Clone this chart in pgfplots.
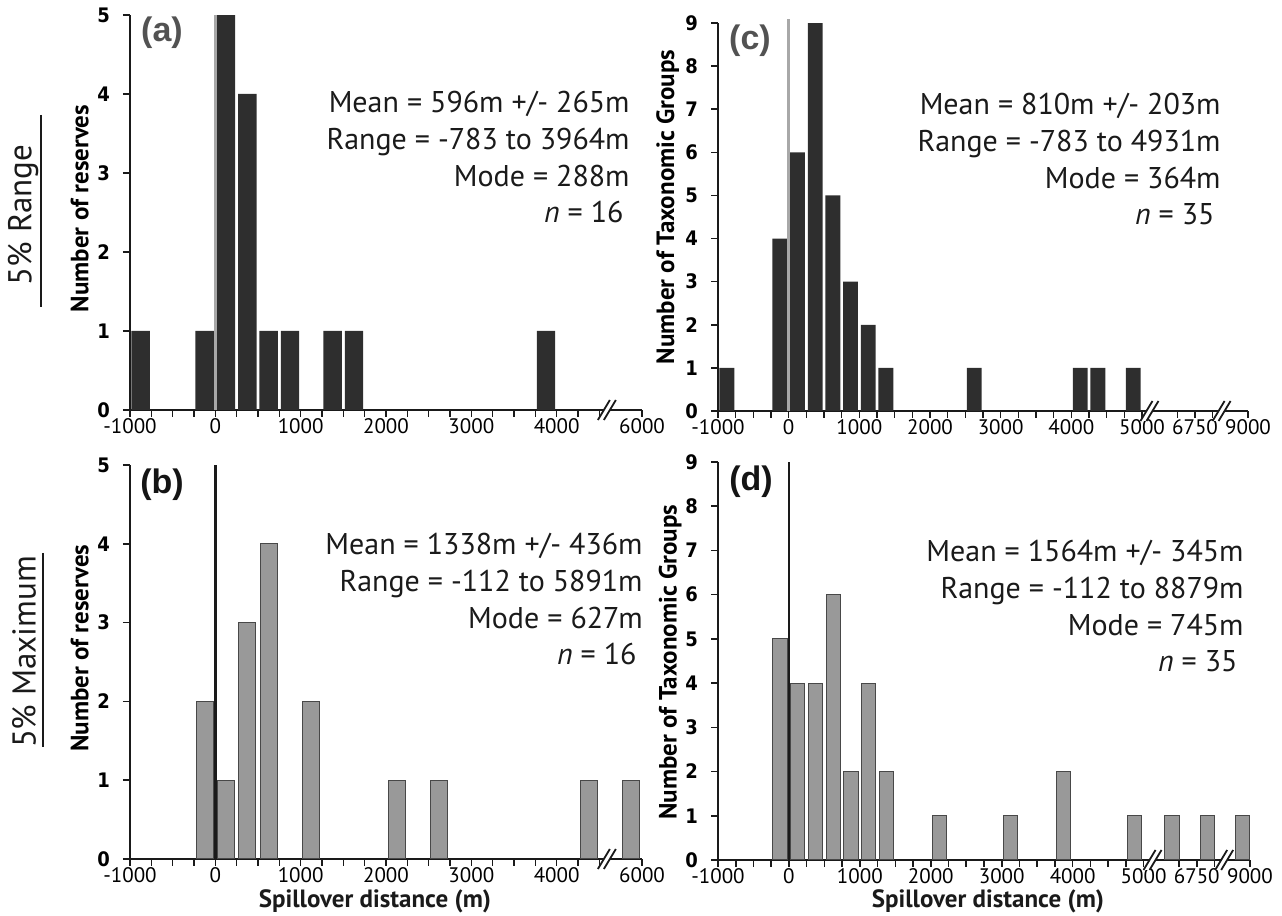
\documentclass[border=0pt]{standalone}
\usepackage{fontspec}
\setmainfont{PT Sans}
\newfontfamily\arialf{Liberation Sans}
\newfontfamily\condf{DejaVu Sans Condensed}
\usepackage{pgfplots}
\pgfplotsset{compat=1.18}

\definecolor{barDark}{HTML}{2E2E2E}
\definecolor{barGray}{HTML}{999999}
\definecolor{zeroGray}{HTML}{A8A8A8}
\definecolor{axisBlack}{HTML}{1A1A1A}

\pgfplotsset{
  histo/.style={
    scale only axis, clip=false,
    axis x line=bottom, axis y line=left,
    axis line style={-, line width=1pt, axisBlack},
    tick align=outside,
    major tick length=3.5pt, minor tick length=3.5pt,
    tick style={axisBlack, line width=0.8pt},
    ymin=0, xmin=-1000,
    xticklabel style={font=\fontsize{10.5}{12}\selectfont, inner sep=0.5pt, text depth=0pt},
    yticklabel style={font=\condf\bfseries\fontsize{10}{11}\selectfont, xshift=-3pt},
    /pgf/number format/assume math mode=true,
    ylabel style={font=\bfseries\fontsize{12.5}{14}\selectfont},
  },
  shortx/.style={
    xmax=5000,
    xtick={-1000,0,1000,2000,3000,4000,5000},
    xticklabels={-1000,0,1000,2000,3000,4000,6000},
    minor xtick={-750,-500,-250,250,500,750,1250,1500,1750,2250,2500,2750,3250,3500,3750,4250,4500},
    ymax=5, ytick={0,1,2,3,4,5},
  },
  longx/.style={
    xmax=6500,
    xtick={-1000,0,1000,2000,3000,4000,5000,5750,6500},
    xticklabels={-1000,0,1000,2000,3000,4000,5000,6750,9000},
    minor xtick={-750,-500,-250,250,500,750,1250,1500,1750,2250,2500,2750,3250,3500,3750,4250,4500,4750,5500,6000},
    ymax=9, ytick={0,1,...,9},
  },
}

% axis break mark at a named coordinate
\newcommand\brk[1]{%
  \fill[white] ([shift={(-5pt,-5pt)}]#1) -- ([shift={(1pt,5pt)}]#1) -- ([shift={(4pt,5pt)}]#1) -- ([shift={(-2pt,-5pt)}]#1) -- cycle;
  \draw[line width=0.9pt, axisBlack] ([shift={(-5pt,-5pt)}]#1) -- ([shift={(1pt,5pt)}]#1);
  \draw[line width=0.9pt, axisBlack] ([shift={(-2pt,-5pt)}]#1) -- ([shift={(4pt,5pt)}]#1);
}

% right edge x, first baseline y (pixels), texts
\newcommand\stats[6]{%
  \node[anchor=base east, inner sep=0pt] at (#1,#2) {Mean = #3};
  \node[anchor=base east, inner sep=0pt] at (#1,#2+37) {Range = #4};
  \node[anchor=base east, inner sep=0pt] at (#1,#2+74) {Mode = #5};
  \node[anchor=base east, inner sep=0pt] at (#1-6,#2+110) {\textit{n} = #6};
}

\begin{document}
\begin{tikzpicture}
\useasboundingbox (0,0) rectangle (641pt,458pt);

% (a) 5% range, reserves
\begin{axis}[histo, shortx, at={(65pt,253pt)}, anchor=south west,
  width=256pt, height=197.5pt,
  ylabel={Number of reserves},
  ylabel style={at={(axis description cs:-0.098,0.51)}, anchor=center}]
  \addplot[ybar, bar width=215, fill=barDark, draw=none] coordinates {
    (-875,1) (-125,1) (125,5) (375,4) (625,1) (875,1) (1375,1) (1625,1) (3875,1)};
  \addplot[zeroGray, line width=1.3pt] coordinates {(0,0) (0,5)};
  \coordinate (ba) at (axis cs:4600,0);
\end{axis}
\brk{ba}

% (b) 5% maximum, reserves
\begin{axis}[histo, shortx, at={(65pt,28.5pt)}, anchor=south west,
  width=256pt, height=197pt,
  ylabel={Number of reserves},
  ylabel style={at={(axis description cs:-0.098,0.535)}, anchor=center}]
  \addplot[ybar, bar width=200, fill=barGray, draw=axisBlack!80, line width=0.5pt] coordinates {
    (-125,2) (125,1) (375,3) (625,4) (1125,2) (2125,1) (2625,1) (4375,1) (4875,1)};
  \addplot[axisBlack, line width=1.2pt] coordinates {(0,0) (0,5)};
  \coordinate (bb) at (axis cs:4600,0);
\end{axis}
\brk{bb}

% (c) 5% range, taxonomic groups
\begin{axis}[histo, longx, at={(359pt,252.5pt)}, anchor=south west,
  width=265pt, height=194pt,
  ylabel={Number of Taxonomic Groups},
  ylabel style={at={(axis description cs:-0.095,0.526)}, anchor=center}]
  \addplot[ybar, bar width=210, fill=barDark, draw=none] coordinates {
    (-875,1) (-125,4) (125,6) (375,9) (625,5) (875,3) (1125,2) (1375,1)
    (2625,1) (4125,1) (4375,1) (4875,1)};
  \addplot[zeroGray, line width=1.3pt] coordinates {(0,0) (0,9.1)};
  \coordinate (bc1) at (axis cs:5120,0);
  \coordinate (bc2) at (axis cs:6140,0);
\end{axis}
\brk{bc1}\brk{bc2}

% (d) 5% maximum, taxonomic groups
\begin{axis}[histo, longx, at={(359pt,28pt)}, anchor=south west,
  width=266pt, height=199pt,
  ylabel={Number of Taxonomic Groups},
  ylabel style={at={(axis description cs:-0.09,0.497)}, anchor=center}]
  \addplot[ybar, bar width=200, fill=barGray, draw=axisBlack!80, line width=0.5pt] coordinates {
    (-125,5) (125,4) (375,4) (625,6) (875,2) (1125,4) (1375,2) (2125,1)
    (3125,1) (3875,2) (4875,1) (5400,1) (5900,1) (6400,1)};
  \addplot[axisBlack, line width=1.2pt] coordinates {(0,0) (0,9)};
  \coordinate (bd1) at (axis cs:5140,0);
  \coordinate (bd2) at (axis cs:6150,0);
\end{axis}
\brk{bd1}\brk{bd2}

% annotations, in pixel coordinates of the reference
\begin{scope}[yshift=458pt, x=0.5pt, y=-0.5pt, font=\fontsize{15}{17}\selectfont, text=axisBlack]
  \stats{630}{113}{596m +/- 265m}{-783 to 3964m}{288m}{16}
  \stats{643}{555}{1338m +/- 436m}{-112 to 5891m}{627m}{16}
  \stats{1221}{115}{810m +/- 203m}{-783 to 4931m}{364m}{35}
  \stats{1244}{562}{1564m +/- 345m}{-112 to 8879m}{745m}{35}

  \node[font=\bfseries\fontsize{12.5}{14}\selectfont, inner sep=0pt] at (375,901) {Spillover distance (m)};
  \node[font=\bfseries\fontsize{12.5}{14}\selectfont, inner sep=0pt] at (988,901) {Spillover distance (m)};

  \node[font=\arialf\bfseries\fontsize{17}{19}\selectfont, text=black!68] at (162,33) {(a)};
  \node[font=\arialf\bfseries\fontsize{17}{19}\selectfont, text=black!92] at (162,485) {(b)};
  \node[font=\arialf\bfseries\fontsize{17}{19}\selectfont, text=black!68] at (750,41) {(c)};
  \node[font=\arialf\bfseries\fontsize{17}{19}\selectfont, text=black!92] at (751,482) {(d)};

  \node[rotate=90, font=\fontsize{16.5}{18}\selectfont] at (23,215) {5\% Range};
  \draw[line width=1pt, axisBlack] (41,115) -- (41,307);
  \node[rotate=90, font=\fontsize{16.5}{18}\selectfont] at (24,652) {5\% Maximum};
  \draw[line width=1pt, axisBlack] (43,553) -- (43,747);
\end{scope}
\end{tikzpicture}
\end{document}
